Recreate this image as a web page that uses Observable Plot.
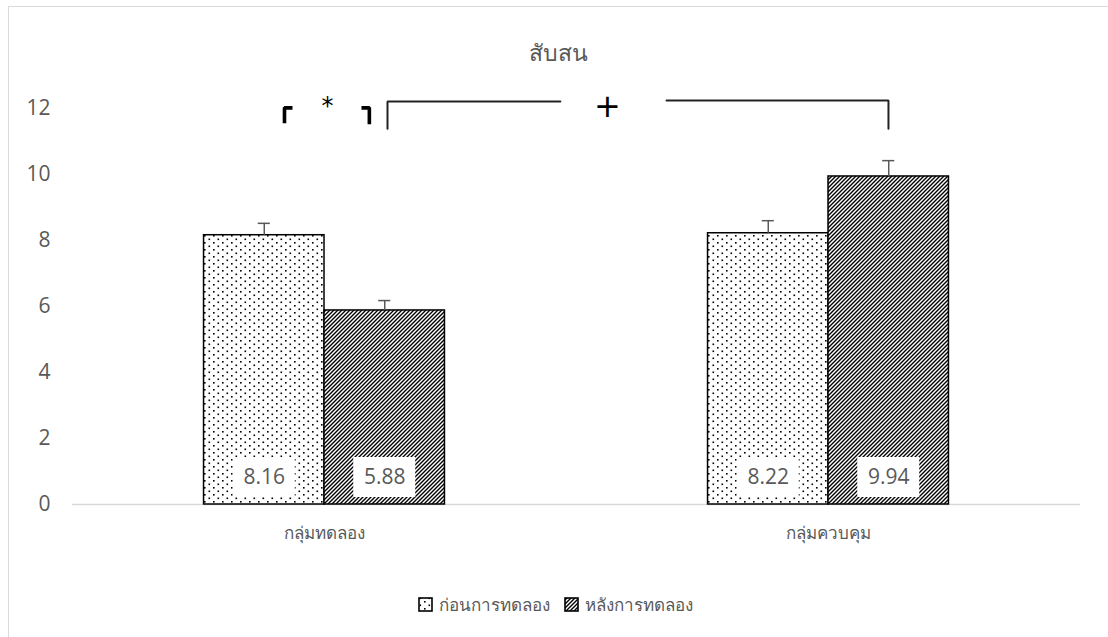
<!DOCTYPE html>
<html>
<head>
<meta charset="utf-8">
<script src="https://cdn.jsdelivr.net/npm/d3@7"></script>
<script src="https://cdn.jsdelivr.net/npm/@observablehq/plot@0.6"></script>
<style>
  html, body { margin: 0; padding: 0; background: #fff; overflow: hidden; }
  #wrap { position: relative; width: 1108px; height: 637px; font-family: "Open Sans", sans-serif; color: #595959; }
  #frame { position: absolute; left: 8px; top: 6px; width: 1200px; height: 700px; border: 1.5px solid #d9d9d9; box-sizing: border-box; }
  #title { position: absolute; top: 35px; left: 0; width: 1116px; text-align: center; font-size: 23px; font-weight: 300; }
  #chart { position: absolute; left: 0; top: 0; }
  #legend { position: absolute; top: 591px; left: 0; width: 1110px; display: flex; justify-content: center; gap: 14px; font-size: 17px; align-items: center; }
  .item { display: flex; align-items: center; gap: 6px; }
</style>
</head>
<body>
<svg width="0" height="0" style="position:absolute">
  <defs>
    <pattern id="dots" width="9" height="7" patternUnits="userSpaceOnUse">
      <rect x="0" y="0" width="9" height="7" fill="#fff"/>
      <rect x="1.5" y="0.5" width="1.6" height="1.6" fill="#000"/>
      <rect x="6" y="4" width="1.6" height="1.6" fill="#000"/>
    </pattern>
    <pattern id="hatch" width="4" height="4" patternUnits="userSpaceOnUse">
      <rect x="0" y="0" width="4" height="4" fill="#fff"/>
      <path d="M-1,5 L5,-1 M-1,1 L1,-1 M3,5 L5,3" stroke="#000" stroke-width="1.4"/>
    </pattern>
  </defs>
</svg>
<div id="wrap">
  <div id="frame"></div>
  <div id="title"></div>
  <div id="chart"></div>
  <div id="legend"></div>
</div>
<script>
const title = "สับสน";
const groups = ["กลุ่มทดลอง", "กลุ่มควบคุม"];
const series = ["ก่อนการทดลอง", "หลังการทดลอง"];
const beforeValues = [8.16, 8.22];
const afterValues = [5.88, 9.94];
const beforeErrors = [0.36, 0.38];
const afterErrors = [0.30, 0.48];
const yTicks = [0, 2, 4, 6, 8, 10, 12];
const seriesFills = ["url(#dots)", "url(#hatch)"];

// significance annotations in data units (x: group index space, y: value)
const bracketLines = [
  {id: "a", pts: [[0.4206, 11.55], [0.4206, 12.02], [0.4365, 12.02]], w: 3.6},
  {id: "b", pts: [[0.5734, 12.02], [0.589, 12.02], [0.589, 11.52]], w: 3.6},
  {id: "c", pts: [[0.625, 11.39], [0.625, 12.21], [0.968, 12.21]], w: 2},
  {id: "d", pts: [[1.1786, 12.24], [1.619, 12.24], [1.619, 11.39]], w: 2}
];
const sigMarks = [
  {x: 0.506, y: 12.08, label: "*", size: 24, weight: "bold"},
  {x: 1.0615, y: 12.06, label: "+", size: 32, weight: "normal"}
];

const barWidth = 0.239;
const rows = [];
groups.forEach((g, gi) => {
  [beforeValues, afterValues].forEach((vals, si) => {
    const x1 = gi + 0.5 + (si - 1) * barWidth;
    const x2 = x1 + barWidth;
    rows.push({group: g, series: series[si], si, x1, x2, cx: (x1 + x2) / 2,
      value: vals[gi], err: (si === 0 ? beforeErrors : afterErrors)[gi]});
  });
});
const linePts = bracketLines.flatMap(b => b.pts.map(p => ({id: b.id, x: p[0], y: p[1], w: b.w})));

document.getElementById("title").textContent = title;

const chart = Plot.plot({
  width: 1108,
  height: 560,
  marginTop: 108,
  marginBottom: 56,
  marginLeft: 72,
  marginRight: 28,
  style: {fontFamily: "'Open Sans', sans-serif", fontSize: "20px", color: "#595959", background: "transparent", overflow: "visible"},
  x: {domain: [0, 2]},
  y: {domain: [0, 12]},
  marks: [
    Plot.axisY({ticks: yTicks, tickSize: 0, tickPadding: 22, label: null, fontSize: 21}),
    Plot.axisX({ticks: [0.5, 1.5], tickFormat: d => groups[Math.floor(d)], tickSize: 0, tickPadding: 22, label: null, fontSize: 17}),
    Plot.ruleY([0], {stroke: "#d9d9d9", strokeWidth: 1.5}),
    Plot.rectY(rows, {x1: "x1", x2: "x2", y1: 0, y2: "value", fill: d => seriesFills[d.si], stroke: "#000", strokeWidth: 1.5}),
    Plot.ruleX(rows, {x: "cx", y1: "value", y2: d => d.value + d.err, stroke: "#595959", strokeWidth: 1.5}),
    Plot.ruleY(rows, {y: d => d.value + d.err, x1: d => d.cx - 0.012, x2: d => d.cx + 0.012, stroke: "#595959", strokeWidth: 1.5}),
    Plot.rect(rows, {x1: "cx", x2: "cx", y1: 0, y2: 0, insetLeft: -31, insetRight: -31, insetTop: -47, insetBottom: 7, fill: "#fff"}),
    Plot.text(rows, {x: "cx", y: 0, dy: -27, text: d => d.value.toFixed(2), fill: "#595959", fontSize: 21}),
    Plot.line(linePts.filter(d => d.w > 3), {x: "x", y: "y", z: "id", stroke: "#000", strokeWidth: 3.6, strokeLinecap: "butt", strokeLinejoin: "miter"}),
    Plot.line(linePts.filter(d => d.w <= 3), {x: "x", y: "y", z: "id", stroke: "#222", strokeWidth: 2, strokeLinejoin: "miter"}),
    Plot.text(sigMarks, {x: "x", y: "y", text: "label", fontSize: "size", fontWeight: d => d.weight, fill: "#000", fontFamily: "DejaVu Sans"})
  ]
});
document.getElementById("chart").appendChild(chart);

const legend = document.getElementById("legend");
series.forEach((s, i) => {
  const item = document.createElement("div");
  item.className = "item";
  item.innerHTML = `<svg width="15" height="15"><rect x="1" y="1" width="13" height="13" fill="${seriesFills[i]}" stroke="#000" stroke-width="1.6"/></svg><span>${s}</span>`;
  legend.appendChild(item);
});
</script>
</body>
</html>
